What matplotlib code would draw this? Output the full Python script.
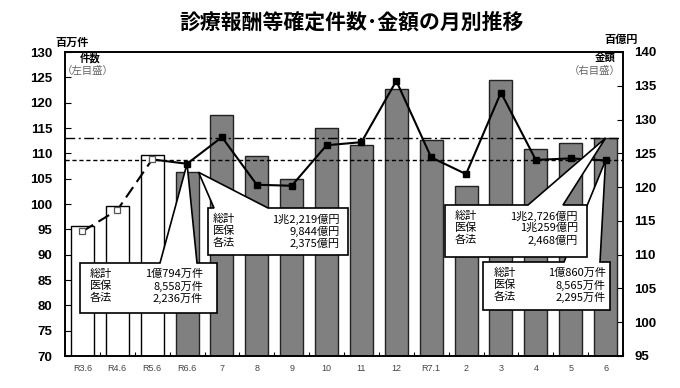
import matplotlib
matplotlib.use('Agg')
import matplotlib.pyplot as plt
from matplotlib.patches import Polygon
import numpy as np

# ---------------- data ----------------
categories = ["R3.6", "R4.6", "R5.6", "R6.6", "7", "8", "9", "10", "11", "12",
              "R7.1", "2", "3", "4", "5", "6"]
# 件数 (百万件, left axis) – line
counts = [94.6, 98.8, 108.8, 107.94, 113.2, 103.8, 103.6, 111.6, 112.2, 124.3,
          109.2, 105.9, 122.0, 108.7, 109.0, 108.60]
# 金額 (百億円, right axis) – bars
amounts = [114.2, 117.2, 124.7, 122.19, 130.7, 124.6, 121.2, 128.8, 126.2, 134.5,
           126.9, 120.2, 135.8, 125.65, 126.6, 127.26]
n_prev = 3  # earlier years (white bars / dashed line)
left_ticks = list(range(70, 131, 5))
right_ticks = list(range(95, 141, 5))

row_labels = ["総計", "医保", "各法"]
box_cnt_r6 = ["1億794万件", "8,558万件", "2,236万件"]
box_amt_r6 = ["1兆2,219億円", "9,844億円", "2,375億円"]
box_amt_r7 = ["1兆2,726億円", "1兆259億円", "2,468億円"]
box_cnt_r7 = ["1億860万件", "8,565万件", "2,295万件"]

title = "診療報酬等確定件数･金額の月別推移"

JP = ["Noto Sans CJK JP", "DejaVu Sans"]
NUM = ["Liberation Sans Narrow", "Liberation Sans", "DejaVu Sans"]

W, H = 680, 388
fig = plt.figure(figsize=(W / 100, H / 100), dpi=100)
fig.patch.set_facecolor('white')

L, R, T, B = 65, 623, 52, 356
ax = fig.add_axes([L / W, 1 - B / H, (R - L) / W, (B - T) / H])
ax2 = ax.twinx()
ax.set_zorder(ax2.get_zorder() + 1)
ax.patch.set_visible(False)

x = np.arange(len(categories))

# bars (amounts, right axis)
ax2.bar(x[:n_prev], amounts[:n_prev], width=0.66, color='white',
        edgecolor='black', linewidth=1.0, zorder=2)
ax2.bar(x[n_prev:], amounts[n_prev:], width=0.66, color='#808080',
        edgecolor='#222222', linewidth=1.0, zorder=2)
ax2.set_ylim(95, 140)
ax2.set_yticks(right_ticks)
ax2.axhline(amounts[-1], color='black', lw=1.0, dashes=(7, 2.5, 1.5, 2.5), zorder=3)

# line (counts, left axis)
ax.axhline(counts[-1], color='black', lw=1.0, dashes=(3, 2), zorder=3)
ax.plot(x[:n_prev], counts[:n_prev], color='black', lw=1.5, dashes=(6, 3), zorder=4)
ax.plot(x[n_prev - 1:], counts[n_prev - 1:], color='black', lw=1.5, zorder=4)
ax.plot(x[:n_prev], counts[:n_prev], 's', mfc='white', mec='#555555', ms=5, mew=0.9, zorder=5)
ax.plot(x[n_prev:], counts[n_prev:], 's', color='black', ms=5, zorder=5)
ax.set_ylim(70, 130)
ax.set_yticks(left_ticks)
ax.set_xlim(-0.5, len(categories) - 0.5)

ax.set_xticks(x)
ax.set_xticklabels(categories, fontsize=6.5, color='#444444', family=NUM)
ax.set_xticks(np.arange(-0.5, len(categories), 1), minor=True)
ax.tick_params(axis='x', which='major', length=0, pad=6)
ax.tick_params(axis='x', which='minor', direction='in', length=3, width=0.8)
ax.tick_params(axis='y', direction='in', length=4, width=0.8, pad=9, labelsize=9.5)
ax2.tick_params(axis='y', direction='in', length=4, width=0.8, pad=8, labelsize=9.5)
for lab in ax.get_yticklabels() + ax2.get_yticklabels():
    lab.set_family(NUM)
    lab.set_fontweight('bold')
for a in (ax, ax2):
    for s in a.spines.values():
        s.set_linewidth(1.2)
        s.set_color('black')

# ---------------- texts ----------------
def ftext(px, py, s, **kw):
    fig.text(px / W, 1 - py / H, s, **kw)

ftext(352, 22, title, ha='center', va='center', fontsize=15, fontweight='bold', family=JP)
ftext(72, 42, "百万件", ha='center', va='center', fontsize=8, fontweight='bold', family=JP)
ftext(621, 39, "百億円", ha='center', va='center', fontsize=8, fontweight='bold', family=JP)
ftext(90, 58, "件数", ha='center', va='center', fontsize=7.5, fontweight='bold', family=JP)
ftext(88, 71, "（左目盛）", ha='center', va='center', fontsize=7.5, color='#666666', family=JP)
ftext(605, 58, "金額", ha='center', va='center', fontsize=7.5, fontweight='bold', family=JP)
ftext(621, 71, "（右目盛）", ha='right', va='center', fontsize=7.5, color='#666666', family=JP)

# ---------------- callouts ----------------
def to_px(axis, xv, yv):
    dx, dy = axis.transData.transform((xv, yv))
    return dx, H - dy

def callout(x0, y0, x1, y1, bl, br, tip, values, tx_l, tx_r, z):
    pts = [(x0, y0), (bl, y0), tip, (br, y0), (x1, y0), (x1, y1), (x0, y1)]
    pts = [(px / W, 1 - py / H) for px, py in pts]
    poly = Polygon(pts, closed=True, facecolor='white', edgecolor='black',
                   linewidth=1.2, transform=fig.transFigure, zorder=z)
    fig.add_artist(poly)
    rows_y = [y0 + 11 + 12 * k for k in range(3)]
    for lab, val, ry in zip(row_labels, values, rows_y):
        fig.text(tx_l / W, 1 - ry / H, lab, ha='left', va='center',
                 fontsize=8, family=JP, zorder=z + 0.1)
        fig.text(tx_r / W, 1 - ry / H, val, ha='right', va='center',
                 fontsize=8, family=JP, zorder=z + 0.1)

callout(80, 263, 217, 313, 160, 197, to_px(ax, x[3], counts[3]),
        box_cnt_r6, 90, 203, 10)
callout(208, 208, 348, 255, 214, 268, to_px(ax2, x[3] + 0.33, amounts[3]),
        box_amt_r6, 213, 340, 10)
callout(483, 262, 610, 310, 564, 600, to_px(ax, x[15], counts[15]),
        box_cnt_r7, 494, 606, 10)
callout(445, 205, 587, 257, 528, 563, to_px(ax2, x[15], amounts[15]),
        box_amt_r7, 455, 578, 11)

fig.savefig("out.png", dpi=100)
